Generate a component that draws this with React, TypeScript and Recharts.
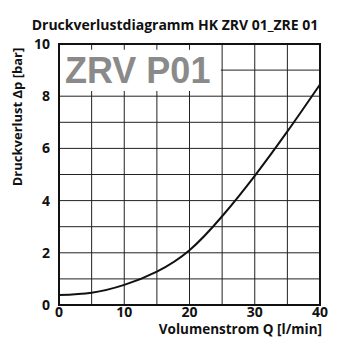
import { LineChart, Line, XAxis, YAxis, CartesianGrid, ReferenceArea } from "recharts";

const flowRate = [0, 5, 10, 15, 20, 25, 30, 35, 40];
const pressureDrop = [0.38, 0.47, 0.77, 1.28, 2.1, 3.4, 4.95, 6.65, 8.45];
const xTicks = [0, 10, 20, 30, 40];
const yTicks = [0, 2, 4, 6, 8, 10];
const xGrid = [5, 10, 15, 20, 25, 30, 35];
const yGrid = [1, 2, 3, 4, 5, 6, 7, 8, 9];

const data = flowRate.map((q, i) => ({ q, dp: pressureDrop[i] }));

const FONT = "'Open Sans', sans-serif";

export default function App() {
  return (
    <div style={{ position: "absolute", left: 0, top: 0, width: 350, height: 350, background: "#fff" }}>
      <div
        style={{
          position: "absolute", left: 0, top: 18, width: 350, textAlign: "center", lineHeight: "14px",
          fontFamily: FONT, fontWeight: 700, fontSize: 14, color: "#111",
        }}
      >
        Druckverlustdiagramm HK ZRV 01_ZRE 01
      </div>
      <LineChart width={350} height={350} data={data} margin={{ top: 44, right: 30, bottom: 0, left: 0 }}>
        <CartesianGrid
          stroke="#222"
          strokeWidth={1}
          horizontalValues={yGrid}
          verticalValues={xGrid}
        />
        <XAxis
          dataKey="q"
          type="number"
          domain={[0, 40]}
          ticks={xTicks}
          height={45}
          tickLine={false}
          tickMargin={-4}
          axisLine={{ stroke: "#111", strokeWidth: 2 }}
          tick={{ fontFamily: FONT, fontWeight: 700, fontSize: 14, fill: "#111" }}
          label={{
            content: () => (
              <text x={322} y={334} textAnchor="end" fontFamily={FONT} fontWeight={700} fontSize={13.5} fill="#111">
                Volumenstrom Q [l/min]
              </text>
            ),
          }}
        />
        <YAxis
          type="number"
          domain={[0, 10]}
          ticks={yTicks}
          width={59}
          tickLine={false}
          tickMargin={3}
          axisLine={{ stroke: "#111", strokeWidth: 2 }}
          tick={{ fontFamily: FONT, fontWeight: 700, fontSize: 14, fill: "#111" }}
          label={{
            content: () => (
              <text
                x={22}
                y={117}
                transform="rotate(-90 22 117)"
                textAnchor="middle"
                fontFamily={FONT}
                fontWeight={700}
                fontSize={13}
                fill="#111"
              >
                Druckverlust Δp [bar]
              </text>
            ),
          }}
        />
        <ReferenceArea
          x1={0}
          x2={24.8}
          y1={8.2}
          y2={9.78}
          fill="#fff"
          fillOpacity={1}
          stroke="none"
          label={{
            value: "ZRV P01",
            position: "insideLeft",
            offset: 6,
            fill: "#8a8a8a",
            fontSize: 36,
            fontWeight: 700,
            fontFamily: "'Liberation Sans', Arial, sans-serif",
          }}
        />
        <ReferenceArea x1={0} x2={40} y1={0} y2={10} fill="none" stroke="#111" strokeWidth={2} />
        <Line
          type="natural"
          dataKey="dp"
          stroke="#111"
          strokeWidth={2}
          dot={false}
          isAnimationActive={false}
        />
      </LineChart>
    </div>
  );
}
